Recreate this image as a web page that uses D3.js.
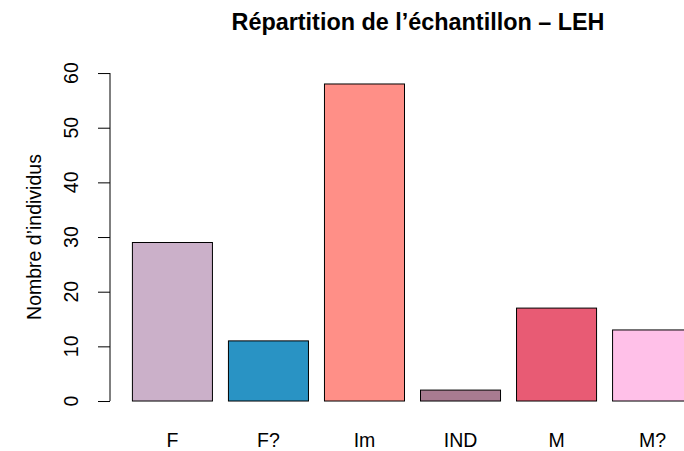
<!DOCTYPE html>
<html>
<head>
<meta charset="utf-8">
<script src="https://cdn.jsdelivr.net/npm/d3@7"></script>
<style>
  body { margin: 0; background: #fff; }
  svg { display: block; font-family: "Liberation Sans", Arial, Helvetica, sans-serif; }
</style>
</head>
<body>
<div id="chart"></div>
<script>
(function () {
	'use strict';

	var categories = ['F', 'F?', 'Im', 'IND', 'M', 'M?'];
	var counts = [29, 11, 58, 2, 17, 13];
	var colors = ['#cbb0c9', '#2993c4', '#ff8f87', '#a87b91', '#e85b74', '#ffc0e8'];
	var yTicks = [0, 10, 20, 30, 40, 50, 60];

	var width = 684,
		height = 451;

	// barplot layout: bar width 1, space 0.2, axes extended 4%
	var barW = 1,
		space = 0.2;
	var xMax = categories.length * (barW + space);
	var xPad = (xMax - space) * 0.04;
	var yMax = d3.max(counts);

	var x = d3.scaleLinear()
		.domain([space - xPad, xMax + xPad])
		.range([110, 715]);

	var y = d3.scaleLinear()
		.domain([-yMax * 0.04, yMax * 1.04])
		.range([413.7, 71.3]);

	var svg = d3.select('#chart')
		.append('svg')
		.attr('width', width)
		.attr('height', height);

	svg.append('text')
		.attr('x', 418)
		.attr('y', 30)
		.attr('text-anchor', 'middle')
		.style('font-size', '23.4px')
		.style('font-weight', 'bold')
		.text('Répartition de l’échantillon – LEH');

	svg.selectAll('.bar')
		.data(counts)
		.enter()
		.append('rect')
		.classed('bar', true)
		.attr('x', function (d, i) { return x(space + i * (barW + space)); })
		.attr('width', function () { return x(barW) - x(0); })
		.attr('y', function (d) { return y(d); })
		.attr('height', function (d) { return y(0) - y(d); })
		.style('fill', function (d, i) { return colors[i]; })
		.style('stroke', '#000')
		.style('stroke-width', 1);

	svg.selectAll('.cat-label')
		.data(categories)
		.enter()
		.append('text')
		.classed('cat-label', true)
		.attr('x', function (d, i) { return x(space + i * (barW + space) + barW / 2); })
		.attr('y', 447)
		.attr('text-anchor', 'middle')
		.style('font-size', '19.5px')
		.text(function (d) { return d; });

	var yAxis = svg.append('g')
		.attr('transform', 'translate(' + x.range()[0] + ',0)')
		.call(d3.axisLeft(y).tickValues(yTicks).tickSize(12).tickSizeOuter(0).tickPadding(0).tickFormat(''));

	yAxis.select('.domain')
		.attr('d', 'M0,' + y(yTicks[0]) + 'V' + y(yTicks[yTicks.length - 1]));
	yAxis.selectAll('line').style('stroke', '#000');
	yAxis.select('.domain').style('stroke', '#000');

	svg.selectAll('.y-label')
		.data(yTicks)
		.enter()
		.append('text')
		.classed('y-label', true)
		.attr('transform', function (d) { return 'translate(78,' + y(d) + ') rotate(-90)'; })
		.attr('text-anchor', 'middle')
		.style('font-size', '19.5px')
		.text(function (d) { return d; });

	svg.append('text')
		.attr('transform', 'translate(41,' + y(30) + ') rotate(-90)')
		.attr('text-anchor', 'middle')
		.style('font-size', '19.5px')
		.text('Nombre d’individus');
}());
</script>
</body>
</html>
